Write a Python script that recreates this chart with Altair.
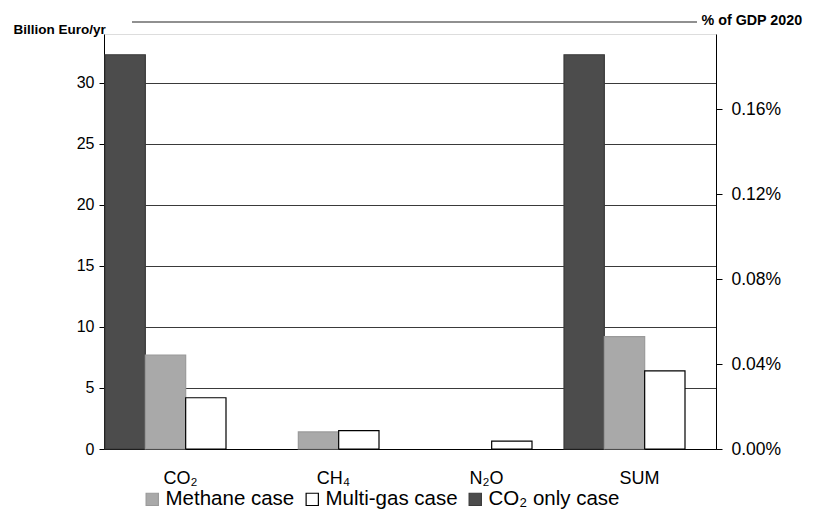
import altair as alt
import pandas as pd

# ---- data ----
categories = ["CO₂", "CH₄", "N₂O", "SUM"]
co2_only_case = [32.3, 0.0, 0.0, 32.3]
methane_case = [7.7, 1.4, 0.0, 9.2]
multi_gas_case = [4.2, 1.5, 0.65, 6.4]

legend_order = ["Methane case", "Multi-gas case", "CO₂ only case"]
bar_order = ["CO₂ only case", "Methane case", "Multi-gas case"]
left_ticks = [0, 5, 10, 15, 20, 25, 30]
right_ticks = [0.0, 0.0004, 0.0008, 0.0012, 0.0016]
gdp_2020_billion = 17400.0  # implied by the secondary (% of GDP) axis

series_values = {
    "CO₂ only case": co2_only_case,
    "Methane case": methane_case,
    "Multi-gas case": multi_gas_case,
}

rows = []
for s, vals in series_values.items():
    for c, v in zip(categories, vals):
        rows.append({"category": c, "series": s, "value": v, "pct": v / gdp_2020_billion})
df = pd.DataFrame(rows)

FONT = "Liberation Sans"
Y_MAX = 34

x_enc = alt.X(
    "category:N",
    sort=categories,
    scale=alt.Scale(paddingInner=0, paddingOuter=0),
    axis=alt.Axis(
        title=None, labelAngle=0, labelFontSize=18, labelPadding=20,
        ticks=False, domainColor="black", domainWidth=1.2, labelColor="black",
    ),
)

legend = alt.Legend(
    title=None, orient="none", legendX=38, legendY=455, direction="horizontal",
    symbolType="square", symbolSize=150, symbolStrokeWidth=1.2,
    labelFontSize=20.5, labelFont=FONT, labelColor="black", labelOffset=3,
    columnPadding=7,
)

bars = (
    alt.Chart(df)
    .transform_filter("datum.value > 0")
    .mark_bar(strokeWidth=1.2)
    .encode(
        x=x_enc,
        xOffset=alt.XOffset(
            "series:N",
            scale=alt.Scale(domain=bar_order, range=[1, 122], paddingInner=0, paddingOuter=0),
        ),
        y=alt.Y(
            "value:Q",
            scale=alt.Scale(domain=[0, Y_MAX], nice=False),
            axis=alt.Axis(
                values=left_ticks, title="Billion Euro/yr", titleAngle=0,
                titleAlign="left", titleBaseline="middle", titleX=-91, titleY=-5,
                titleFontSize=13.5, titleFontWeight="bold", titleFont=FONT,
                grid=True, gridColor="#3a3a3a", gridWidth=1,
                tickSize=5, labelPadding=5, labelFontSize=16,
                domainColor="black", tickColor="black",
            ),
        ),
        color=alt.Color(
            "series:N",
            scale=alt.Scale(domain=legend_order, range=["#a9a9a9", "#ffffff", "#4c4c4c"]),
            legend=legend,
        ),
        stroke=alt.Stroke(
            "series:N",
            scale=alt.Scale(domain=legend_order, range=["#9a9a9a", "#000000", "#3a3a3a"]),
            legend=legend,
        ),
    )
)

right_axis = (
    alt.Chart(df)
    .mark_point(opacity=0)
    .encode(
        x=x_enc,
        y=alt.Y(
            "pct:Q",
            scale=alt.Scale(domain=[0, Y_MAX / gdp_2020_billion], nice=False),
            axis=alt.Axis(
                orient="right", values=right_ticks, format=".2%",
                title="% of GDP 2020", titleAngle=0, titleAlign="left",
                titleBaseline="middle", titleX=-15, titleY=-14,
                titleFontSize=14.3, titleFontWeight="bold", titleFont=FONT,
                grid=False, tickSize=6, labelPadding=9, labelFontSize=17.5,
                domainColor="black", tickColor="black",
            ),
        ),
    )
)

top_line = (
    alt.Chart(pd.DataFrame({"k": [0]}))
    .mark_rule(color="#222222", strokeWidth=1.2)
    .encode(x=alt.value(28), x2=alt.value(593), y=alt.value(-12))
)

chart = (
    alt.layer(bars, right_axis, top_line)
    .resolve_scale(y="independent")
    .properties(
        width=612, height=415,
        padding={"left": 96, "top": 26, "right": 89, "bottom": 60},
        autosize=alt.AutoSizeParams(type="none"),
    )
    .configure_view(stroke=None)
    .configure_axis(labelFont=FONT, titleFont=FONT, labelColor="black", titleColor="black")
    .configure(background="white")
)

chart.save("out.html", embed_options={"renderer": "svg", "actions": False})
